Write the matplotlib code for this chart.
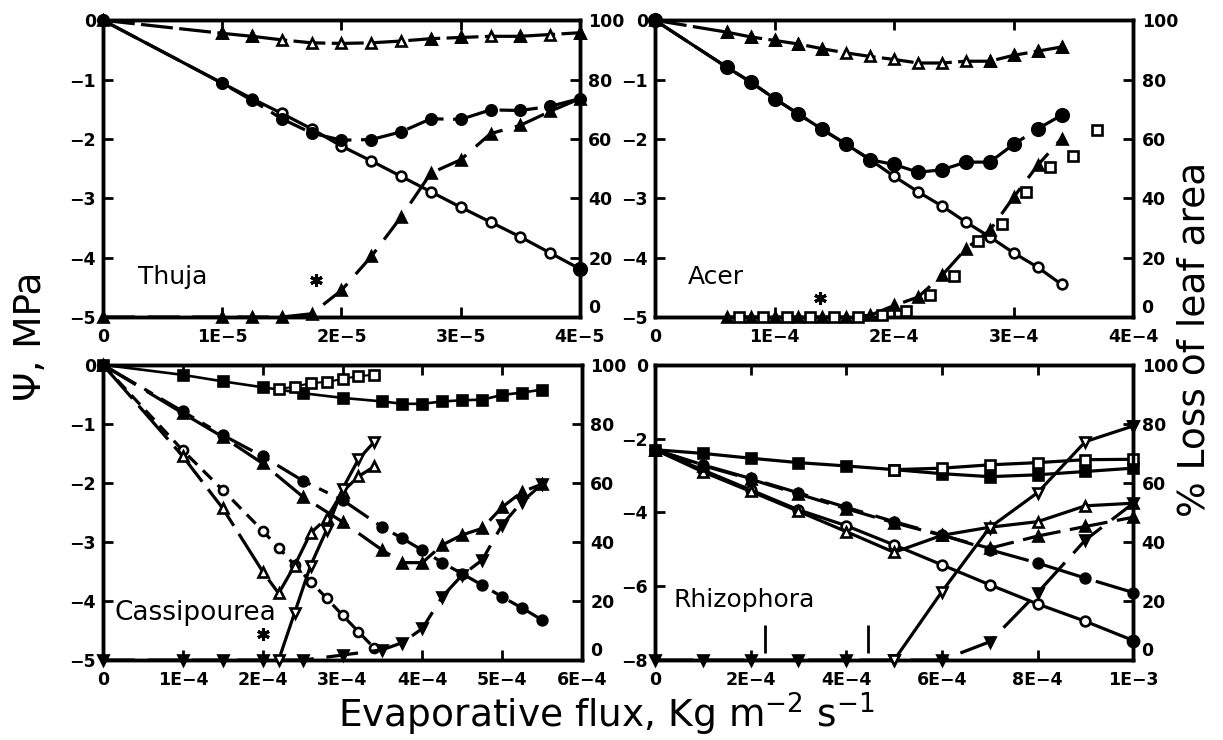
import numpy as np
import matplotlib
matplotlib.use("Agg")
import matplotlib.pyplot as plt

plt.rcParams['font.family'] = 'DejaVu Sans'

# ---------------- data ----------------
# Thuja, flux in units of 1E-5
thuja_x = [0, 1.0, 1.25, 1.5, 1.75, 2.0, 2.25, 2.5, 2.75, 3.0, 3.25, 3.5, 3.75, 4.0]
thuja_psi_tri = [0, -0.22, -0.27, -0.33, -0.38, -0.39, -0.38, -0.35, -0.31, -0.29, -0.27, -0.27, -0.24, -0.21]
thuja_tri_filled = [1, 2, 8, 9, 11, 13]
thuja_psi_dot = [0, -1.06, -1.35, -1.66, -1.90, -2.02, -2.01, -1.88, -1.66, -1.67, -1.51, -1.52, -1.45, -1.32]
thuja_psi_open = [0, -1.06, -1.32, -1.57, -1.83, -2.12, -2.37, -2.63, -2.89, -3.15, -3.40, -3.65, -3.92, -4.19]
thuja_loss = [0, 0, 0, 0, 1.1, 9.0, 20.4, 33.7, 48.5, 53.0, 61.8, 64.6, 69.3, 73.6]
thuja_star = (1.79, -4.38)

# Acer, flux in units of 1E-4
acer_x = [0, 0.6, 0.8, 1.0, 1.2, 1.4, 1.6, 1.8, 2.0, 2.2, 2.4, 2.6, 2.8, 3.0, 3.2, 3.4]
acer_psi_tri = [0, -0.20, -0.28, -0.34, -0.40, -0.48, -0.55, -0.61, -0.66, -0.72, -0.72, -0.69, -0.69, -0.59, -0.52, -0.45]
acer_tri_filled = [1, 2, 3, 4, 5, 12, 13, 14, 15]
acer_psi_dot = [0, -0.79, -1.04, -1.32, -1.58, -1.84, -2.09, -2.35, -2.43, -2.56, -2.52, -2.39, -2.39, -2.09, -1.83, -1.60]
acer_psi_open = [0, -0.79, -1.04, -1.32, -1.58, -1.84, -2.09, -2.35, -2.63, -2.89, -3.13, -3.40, -3.65, -3.92, -4.16, -4.45]
acer_loss = [0, 0, 0, 0, 0, 0, 0.6, 3.9, 6.7, 14.0, 23.0, 29.2, 40.4, 51.1, 60.1]   # from 0.6E-4 on
acer_sq_x = [0.7, 0.9, 1.1, 1.3, 1.5, 1.7, 1.9, 2.1, 2.3, 2.5, 2.7, 2.9, 3.1, 3.3, 3.5, 3.7]
acer_sq_loss = [0, 0, 0, 0, 0, 0, 0.6, 2.0, 7.3, 13.7, 25.6, 31.2, 42.1, 50.6, 54.2, 63.1]
acer_star = (1.38, -4.68)

# Cassipourea, flux in units of 1E-4
cas_x = [0, 1, 1.5, 2, 2.5, 3, 3.5, 3.75, 4, 4.25, 4.5, 4.75, 5, 5.25, 5.5]
cas_psi_sq = [0, -0.17, -0.28, -0.38, -0.48, -0.56, -0.62, -0.66, -0.66, -0.62, -0.60, -0.59, -0.51, -0.47, -0.42]
cas_psi_dot = [0, -0.79, -1.19, -1.55, -1.96, -2.29, -2.75, -2.94, -3.14, -3.35, -3.54, -3.73, -3.93, -4.12, -4.32]
cas_psi_tri = [0, -0.82, -1.22, -1.67, -2.23, -2.66, -3.14, -3.35, -3.35, -3.05, -2.88, -2.77, -2.41, -2.15, -2.02]
cas_loss = [0, 0, 0, 0, 0, 1.7, 3.5, 5.9, 10.7, 21.5, 28.8, 33.9, 45.8, 53.7, 59.6]
cas_sq_open_x = [2.2, 2.4, 2.6, 2.8, 3.0, 3.2, 3.4]
cas_psi_sq_open = [-0.41, -0.37, -0.31, -0.29, -0.24, -0.19, -0.17]
cas_x2 = [0, 1, 1.5, 2, 2.2, 2.4, 2.6, 2.8, 3.0, 3.2, 3.4]
cas_psi_open = [0, -1.45, -2.12, -2.81, -3.10, -3.39, -3.67, -3.95, -4.24, -4.52, -4.80]
cas_psi_tri_open = [0, -1.55, -2.43, -3.50, -3.87, -3.40, -2.85, -2.60, -2.15, -1.89, -1.72]
cas_loss2_x = [2.2, 2.4, 2.6, 2.8, 3.0, 3.2, 3.4]
cas_loss2 = [0, 16, 32, 44, 58, 68, 74]
cas_star = (2.0, -4.56)

# Rhizophora, flux in units of 1E-4
rh_x = [0, 1, 2, 3, 4, 5, 6, 7, 8, 9, 10]
rh_psi_sq = [-2.30, -2.40, -2.53, -2.65, -2.74, -2.84, -2.95, -3.03, -2.98, -2.89, -2.80]
rh_sq_open_x = [5, 6, 7, 8, 9, 10]
rh_psi_sq_open = [-2.84, -2.80, -2.71, -2.65, -2.57, -2.56]
rh_psi_dot = [-2.30, -2.71, -3.08, -3.47, -3.86, -4.25, -4.61, -5.01, -5.37, -5.78, -6.17]
rh_psi_open = [-2.30, -2.85, -3.39, -3.93, -4.36, -4.88, -5.42, -5.96, -6.48, -6.95, -7.47]
rh_psi_tri_open = [-2.30, -2.90, -3.43, -3.97, -4.52, -5.08, -4.62, -4.40, -4.25, -3.82, -3.75]
rh_psi_tri = [-2.30, -2.73, -3.10, -3.50, -3.90, -4.28, -4.62, -4.97, -4.64, -4.38, -4.13]
rh_loss = [0, 0, 0, 0, 0, 0, 0, 6.2, 22.8, 40.7, 53.1]
rh_loss2_x = [5, 6, 7, 8, 9, 10]
rh_loss2 = [0, 23.2, 44.9, 56.7, 74.0, 79.3]
rh_marks_x = [2.3, 4.46]
rh_marks_y = -7.42


def curve(ax, x, y, marker, filled=True, dashes=None, ms=7, lw=2.3, z=3, scale=1.0):
    x = np.asarray(x) * scale
    line, = ax.plot(x, y, color='k', lw=lw, marker=marker, ms=ms, mec='k', mew=1.9,
                    mfc='k' if filled else 'white', clip_on=False, zorder=z)
    if dashes:
        line.set_dashes(dashes)
    return line


def dots(ax, x, y, marker, filled=True, ms=7, scale=1.0):
    ax.plot(np.asarray(x) * scale, y, ls='none', marker=marker, ms=ms, mec='k', mew=1.9,
            mfc='k' if filled else 'white', clip_on=False, zorder=4)


def setup(ax, xmax, xlabels, ymin, ylabels):
    ax.set_xlim(0, xmax)
    ax.set_ylim(ymin, 0)
    ax.set_xticks(np.linspace(0, xmax, len(xlabels)))
    ax.set_xticklabels(xlabels, fontweight='bold', fontsize=12.5)
    ax.set_yticks(np.linspace(0, ymin, len(ylabels)))
    ax.set_yticklabels(ylabels, fontweight='bold', fontsize=12.5)
    ax.tick_params(axis='x', direction='in', length=7, width=2, top=True, pad=8)
    ax.tick_params(axis='y', direction='in', length=7, width=2, right=False, pad=5)
    for s in ax.spines.values():
        s.set_linewidth(2.5)
    tw = ax.twinx()
    tw.set_ylim(0, 100)
    tw.set_yticks(range(0, 101, 20))
    tw.set_yticklabels([str(v) for v in range(0, 101, 20)], fontweight='bold', fontsize=12.5)
    tw.tick_params(direction='in', length=7, width=2, pad=6)
    for s in tw.spines.values():
        s.set_linewidth(2.5)
    # lift the "0" of the right axis a little, as in the original
    tw.get_yticklabels()[0].set_va('bottom')
    return tw


fig = plt.figure(figsize=(12.23, 7.40), dpi=100)
ax1 = fig.add_axes([0.0842, 0.5716, 0.390, 0.401])
ax2 = fig.add_axes([0.5356, 0.5716, 0.391, 0.401])
ax3 = fig.add_axes([0.0842, 0.108, 0.3917, 0.399])
ax4 = fig.add_axes([0.5356, 0.108, 0.391, 0.399])

psi5 = ['0', '\u22121', '\u22122', '\u22123', '\u22124', '\u22125']

# ---- Thuja ----
s = 1e-5
tw1 = setup(ax1, 4e-5, ['0', '1E\u22125', '2E\u22125', '3E\u22125', '4E\u22125'], -5, psi5)
curve(ax1, thuja_x, thuja_psi_tri, '^', filled=False, dashes=(10, 2), scale=s)
dots(ax1, [thuja_x[i] for i in thuja_tri_filled], [thuja_psi_tri[i] for i in thuja_tri_filled], '^', scale=s)
curve(ax1, thuja_x, thuja_psi_open, 'o', filled=False, ms=7, scale=s)
dots(ax1, thuja_x[-1:], thuja_psi_open[-1:], 'o', ms=9, scale=s)
curve(ax1, thuja_x, thuja_psi_dot, 'o', ms=7.5, dashes=(12, 3), scale=s)
curve(tw1, thuja_x, thuja_loss, '^', ms=6.5, dashes=(10, 4), scale=s)
ax1.plot(thuja_star[0] * s, thuja_star[1], marker=(6, 2, 0), ms=9, mew=2.2, color='k')
ax1.text(0.29e-5, -4.33, 'Thuja', fontsize=18, va='center')

# ---- Acer ----
s = 1e-4
tw2 = setup(ax2, 4e-4, ['0', '1E\u22124', '2E\u22124', '3E\u22124', '4E\u22124'], -5, psi5)
curve(ax2, acer_x, acer_psi_tri, '^', filled=False, dashes=(10, 2), scale=s)
dots(ax2, [acer_x[i] for i in acer_tri_filled], [acer_psi_tri[i] for i in acer_tri_filled], '^', scale=s)
curve(ax2, acer_x, acer_psi_open, 'o', filled=False, ms=7, scale=s)
curve(ax2, acer_x, acer_psi_dot, 'o', ms=9, dashes=(12, 3), scale=s)
curve(tw2, acer_x[1:], acer_loss, '^', ms=6.5, dashes=(10, 4), scale=s)
dots(tw2, acer_sq_x, acer_sq_loss, 's', filled=False, ms=7, scale=s)
ax2.plot(acer_star[0] * s, acer_star[1], marker=(6, 2, 0), ms=9, mew=2.2, color='k')
ax2.text(0.276e-4, -4.33, 'Acer', fontsize=18, va='center')

# ---- Cassipourea ----
tw3 = setup(ax3, 6e-4, ['0', '1E\u22124', '2E\u22124', '3E\u22124', '4E\u22124', '5E\u22124', '6E\u22124'], -5, psi5)
curve(ax3, cas_x, cas_psi_sq, 's', ms=6.5, lw=1.9, scale=s)
curve(ax3, cas_sq_open_x, cas_psi_sq_open, 's', filled=False, ms=6.5, lw=1.5, scale=s)
curve(ax3, cas_x2, cas_psi_open, 'o', filled=False, ms=6.5, dashes=(4, 2.5), scale=s)
curve(ax3, cas_x2, cas_psi_tri_open, '^', filled=False, ms=7, dashes=(14, 3), scale=s)
curve(ax3, cas_x, cas_psi_tri, '^', ms=6.5, dashes=(12, 4), scale=s)
curve(ax3, cas_x, cas_psi_dot, 'o', ms=7, dashes=(12, 3, 3, 3), scale=s)
curve(tw3, cas_x, cas_loss, 'v', ms=6.5, dashes=(10, 4), scale=s)
curve(tw3, cas_loss2_x, cas_loss2, 'v', filled=False, ms=7, scale=s)
ax3.plot(cas_star[0] * s, cas_star[1], marker=(6, 2, 0), ms=9, mew=2.2, color='k')
ax3.text(0.15e-4, -4.2, 'Cassipourea', fontsize=19, va='center')

# ---- Rhizophora ----
tw4 = setup(ax4, 1e-3, ['0', '2E\u22124', '4E\u22124', '6E\u22124', '8E\u22124', '1E\u22123'], -8,
            ['0', '\u22122', '\u22124', '\u22126', '\u22128'])
curve(ax4, rh_x, rh_psi_sq, 's', ms=7, scale=s)
curve(ax4, rh_sq_open_x, rh_psi_sq_open, 's', filled=False, ms=7, scale=s)
curve(ax4, rh_x, rh_psi_open, 'o', filled=False, ms=7, scale=s)
dots(ax4, rh_x[-1:], rh_psi_open[-1:], 'o', ms=8, scale=s)
curve(ax4, rh_x, rh_psi_tri_open, '^', filled=False, ms=7, scale=s)
curve(ax4, rh_x, rh_psi_tri, '^', ms=6.5, dashes=(12, 3), scale=s)
curve(ax4, rh_x, rh_psi_dot, 'o', ms=7, dashes=(14, 4), scale=s)
curve(tw4, rh_x, rh_loss, 'v', ms=6.5, dashes=(12, 4), scale=s)
curve(tw4, rh_loss2_x, rh_loss2, 'v', filled=False, ms=7.5, scale=s)
dots(tw4, rh_loss2_x[-1:], rh_loss2[-1:], 'v', ms=7.5, scale=s)
ax4.plot(np.asarray(rh_marks_x) * s, [rh_marks_y] * len(rh_marks_x), ls='none', marker='|',
         ms=20, mew=2, color='k')
ax4.text(0.38e-4, -6.37, 'Rhizophora', fontsize=18, va='center')

fig.text(0.025, 0.545, '\u03a8, MPa', fontsize=27, rotation=90, ha='center', va='center')
fig.text(0.977, 0.541, '% Loss of leaf area', fontsize=27, rotation=90, ha='center', va='center')
fig.text(0.496, 0.034, 'Evaporative flux, Kg m$^{-2}$ s$^{-1}$', fontsize=27, ha='center', va='center')

fig.savefig('out.png', dpi=100)
